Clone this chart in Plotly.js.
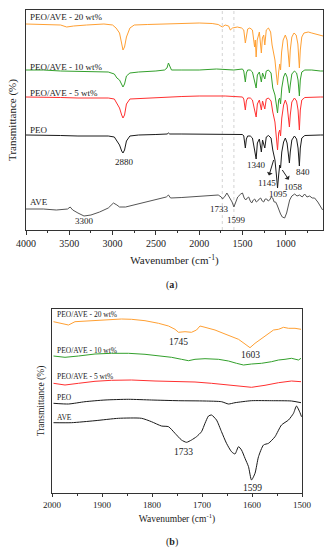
<!DOCTYPE html>
<html>
<head>
<meta charset="utf-8">
<script src="https://cdn.plot.ly/plotly-3.0.1.min.js"></script>
<style>html,body{margin:0;padding:0;background:#fff;}#chart{width:332px;height:550px;}</style>
</head>
<body>
<div id="chart"></div>
<script>
// ---------- Panel (a): full range spectra (offset transmittance, a.u.) ----------
const wnA_orange = [4000,3800,3600,3530,3450,3300,3100,3000,2960,2920,2895,2880,2862,2840,2800,2750,2600,2400,2200,2000,1850,1780,1733,1700,1660,1640,1615,1560,1510,1485,1467,1455,1440,1415,1385,1360,1352,1342,1330,1305,1282,1270,1255,1242,1225,1200,1175,1158,1145,1125,1108,1095,1082,1070,1060,1048,1030,1005,985,968,958,948,930,905,880,860,843,832,815,790,740,700,650,600,570];
const tA_orange  = [206,205.5,205,203,204,205,206,205,202,197,186,180,183,193,202,205,205.5,206,206,207,206.5,205.5,203,205,204,200,202,203,202,200,187,196,201,202,200,183,190,173,190,198,177,192,195,185,200,202,198,185,178,170,155,145,158,166,160,178,190,195,190,175,163,180,193,197,195,186,162,180,193,197,198,197,196,195,194];

const wnA_green = [4000,3800,3600,3400,3200,3050,2980,2950,2920,2895,2880,2862,2840,2800,2700,2500,2400,2372,2355,2340,2320,2200,2000,1800,1700,1600,1500,1485,1467,1455,1440,1410,1385,1360,1342,1328,1305,1282,1268,1242,1225,1200,1170,1150,1125,1108,1095,1082,1070,1060,1046,1025,1005,985,968,958,948,930,900,875,858,843,832,815,780,700,600,570];
const tA_green  = [160,160,159,158.5,158,158,156,152,150,145,143,146,154,157,158,159,160,162,167,164,160,160,160,161,160.5,160,161,159,148,157,160,160,158,150,142,155,158,148,157,151,159,160,157,142,135,125,117,130,132,126,142,153,157,153,142,137,145,156,159,157,150,134,150,158,160,160,159,159];

const wnA_red = [4000,3800,3600,3400,3200,3050,2980,2950,2920,2895,2880,2862,2840,2800,2700,2500,2350,2200,2000,1800,1700,1600,1500,1485,1467,1455,1440,1410,1385,1360,1342,1328,1305,1282,1268,1242,1225,1200,1170,1150,1125,1108,1095,1082,1070,1060,1046,1025,1005,985,968,958,948,930,900,875,858,843,832,815,780,700,600,570];
const tA_red  = [133,133,132.5,132,132,132,131,126,122,115,112,115,126,131,131.5,132.5,133,133.5,134,134.5,134,133.5,133,131,120,129,132,132,130,120,113,126,130,120,129,121,131,132,129,118,108,92,80,97,100,94,112,125,130,125,112,103,115,128,132,129,120,100,120,130,132.5,133,133,133];

const wnA_peo = [4000,3800,3600,3400,3200,3050,2980,2950,2920,2895,2880,2862,2840,2800,2700,2500,2370,2355,2340,2200,2000,1800,1700,1600,1500,1485,1467,1455,1440,1410,1385,1360,1342,1328,1305,1282,1268,1242,1225,1200,1170,1150,1140,1125,1108,1095,1082,1070,1060,1046,1025,1005,985,968,958,948,930,900,875,858,843,832,815,780,700,600,570];
const tA_peo  = [95,95,94.5,94,94,94,93,89,85,79,77,80,89,94,95,95.5,96,97,96,96,96,96,96,96,95.5,94,82,91,94,94,92,80,71,87,91,78,90,82,93,94.5,92,80,77,70,55,42,55,65,62,78,88,92,87,73,67,78,90,94,91,82,64,82,92,94.5,95,95,95];

const wnA_ave = [4000,3800,3650,3520,3490,3460,3400,3330,3250,3150,3050,2990,2950,2920,2850,2750,2600,2450,2380,2355,2330,2200,2000,1850,1780,1745,1730,1700,1680,1660,1640,1620,1599,1580,1555,1520,1500,1480,1462,1445,1428,1410,1393,1375,1359,1340,1324,1307,1290,1272,1255,1238,1220,1203,1186,1168,1151,1134,1117,1100,1080,1060,1040,1013,990,970,955,930,897,870,840,810,782,755,724,695,667,630,600,574];
const tA_ave  = [21,21,20,21,23,20,17,14,15,18,22,27,25,23,23,25,28,31,33,35,32,32.5,34,35,35,33,31,34,37,34,31,28,23,28,33,36,37,32,30,32,33,29,27,30,31,28,29,31,32,29,28,31,31,29,30,33,32,28,28,25,20,16,13,12,17,25,30,34,36,34,35,33,36,33,34,32,32,28,24,20];

// ---------- Panel (b): 2000-1500 cm-1 ----------
const wnB_orange = [1997,1984,1967,1954,1927,1894,1861,1841,1814,1787,1767,1754,1747,1734,1721,1711,1704,1694,1674,1654,1641,1627,1614,1604,1594,1581,1567,1557,1547,1537,1527,1514,1502];
const tB_orange  = [171.3,169.7,168,171.3,172.3,173,174,173.7,172.3,169.7,167,163.7,160.7,161.3,160.7,163,167,165.7,163,159,156.3,153.7,149,145.3,149.7,154.7,159.7,163,163.7,165.7,164.7,164.7,163.7];

const wnB_green = [1997,1974,1947,1914,1881,1847,1814,1781,1761,1741,1727,1714,1694,1667,1647,1631,1617,1601,1581,1561,1547,1534,1521,1507,1502];
const tB_green  = [137,135.7,137,139,139.7,139.7,138.7,137,135.7,133.7,132.3,133.7,134.3,133.7,132,129.7,128,129,129.7,131.3,133,133.7,134.7,133,134.7];

const wnB_red = [1997,1974,1947,1914,1881,1841,1794,1747,1714,1681,1654,1627,1601,1574,1547,1521,1502];
const tB_red  = [109.7,108,109.7,111.7,112.7,113,112,111.3,111,109.7,108.3,107,105.7,107.7,110.3,112,111.3];

const wnB_peo = [1997,1967,1934,1894,1847,1801,1747,1694,1661,1647,1634,1601,1561,1521,1502];
const tB_peo  = [89.7,89,91.3,93,93.7,93,92.3,92,91.3,89,90.3,92.3,92.3,92,90.3];

const wnB_ave = [1997,1961,1914,1867,1821,1801,1781,1767,1754,1741,1731,1721,1711,1701,1694,1687,1681,1671,1661,1651,1641,1634,1627,1621,1614,1607,1601,1594,1587,1577,1567,1554,1541,1527,1517,1511,1504,1501];
const tB_ave  = [70.3,70.3,72.3,74.7,74.7,71.3,67,66.3,59.7,53,50.7,53,56.3,61.3,69.7,77,78,73,61.3,49.7,41.3,39,46.3,43,34.7,26.3,13,19.7,36.3,48,49.7,56.3,68,73,79.7,87,80.3,76.3];

const seriesNames = ["PEO/AVE - 20 wt%","PEO/AVE - 10 wt%","PEO/AVE - 5 wt%","PEO","AVE"];
const peakLabelsA = ["3300","2880","1733","1599","1340","1145","1095","1058","840"];
const peakLabelsB = ["1745","1603","1733","1599"];

const F = "Liberation Serif, Times New Roman, serif";
const cOrange = "#ffa033", cGreen = "#33a02c", cRed = "#ff3030", cBlack = "#1a1a1a", cGray = "#555555";

function tr(x, y, color, xa, ya, shape) {
  return {x: x, y: y, type: "scatter", mode: "lines", xaxis: xa, yaxis: ya,
          line: {color: color, width: 1, shape: shape || "linear", smoothing: 0.6}, hoverinfo: "skip", showlegend: false};
}

const data = [
  tr(wnA_orange, tA_orange, cOrange, "x", "y"),
  tr(wnA_green, tA_green, cGreen, "x", "y"),
  tr(wnA_red, tA_red, cRed, "x", "y"),
  tr(wnA_peo, tA_peo, cBlack, "x", "y"),
  tr(wnA_ave, tA_ave, cGray, "x", "y"),
  tr(wnB_orange, tB_orange, cOrange, "x2", "y2"),
  tr(wnB_green, tB_green, cGreen, "x2", "y2"),
  tr(wnB_red, tB_red, cRed, "x2", "y2"),
  tr(wnB_peo, tB_peo, cBlack, "x2", "y2", "spline"),
  tr(wnB_ave, tB_ave, cBlack, "x2", "y2", "spline")
];

function lab(text, x, y, xr, yr, size, anchor) {
  return {text: text, x: x, y: y, xref: xr, yref: yr, showarrow: false,
          xanchor: anchor || "center", yanchor: "middle", font: {family: F, size: size, color: "#222"}};
}
// label with an arrow from the peak towards the label (head at the label side)
function arrowLab(text, px, py, tx, ty, size) {
  return {text: text, x: px, y: py, ax: tx, ay: ty, xref: "x", yref: "y", axref: "x", ayref: "y",
          showarrow: true, arrowside: "start", arrowhead: 2, arrowsize: 0.8, arrowwidth: 1,
          arrowcolor: "#222", standoff: 0, startstandoff: 1,
          font: {family: F, size: size, color: "#222"}};
}

const annotations = [
  // panel a series labels
  lab(seriesNames[0], 3980, 213, "x", "y", 9, "left"),
  lab(seriesNames[1], 3980, 163, "x", "y", 9, "left"),
  lab(seriesNames[2], 3980, 137, "x", "y", 9, "left"),
  lab(seriesNames[3], 3980, 100, "x", "y", 9, "left"),
  lab(seriesNames[4], 3980, 28, "x", "y", 9, "left"),
  // panel a peak labels
  lab(peakLabelsA[0], 3320, 9, "x", "y", 9),
  lab(peakLabelsA[1], 2860, 68, "x", "y", 9),
  lab(peakLabelsA[2], 1762, 21, "x", "y", 9),
  lab(peakLabelsA[3], 1566, 10, "x", "y", 9),
  lab(peakLabelsA[4], 1336, 65, "x", "y", 9),
  arrowLab(peakLabelsA[5], 1140, 70, 1220, 47, 9),
  lab(peakLabelsA[6], 1082, 36, "x", "y", 9),
  arrowLab(peakLabelsA[7], 1040, 60, 909, 43, 9),
  lab(peakLabelsA[8], 805, 58, "x", "y", 9),
  // panel b series labels
  lab(seriesNames[0], 1994, 179, "x2", "y2", 7.5, "left"),
  lab(seriesNames[1], 1994, 143, "x2", "y2", 7.5, "left"),
  lab(seriesNames[2], 1994, 117, "x2", "y2", 7.5, "left"),
  lab(seriesNames[3], 1994, 96, "x2", "y2", 7.5, "left"),
  lab(seriesNames[4], 1994, 76, "x2", "y2", 7.5, "left"),
  lab(peakLabelsB[0], 1748, 151, "x2", "y2", 9.5),
  lab(peakLabelsB[1], 1604, 138, "x2", "y2", 9.5),
  lab(peakLabelsB[2], 1738, 41, "x2", "y2", 9.5),
  lab(peakLabelsB[3], 1600, 5, "x2", "y2", 9.5),
  // panel captions
  lab("(<b>a</b>)", 0.518, 1 - 285/550, "paper", "paper", 10),
  lab("(<b>b</b>)", 0.518, 1 - 542/550, "paper", "paper", 10)
];

const shapes = [1733, 1599].map(v => ({type: "line", xref: "x", yref: "y", x0: v, x1: v, y0: 0, y1: 220,
  line: {color: "#c8c8c8", width: 0.8, dash: "dot"}, layer: "below"}));

const axisCommon = {showline: true, linecolor: "#333", linewidth: 1, mirror: true, showgrid: false, zeroline: false};

const layout = {
  width: 332, height: 550, margin: {l: 0, r: 0, t: 0, b: 0},
  paper_bgcolor: "#fff", plot_bgcolor: "#fff", showlegend: false,
  font: {family: F, color: "#222"},
  xaxis: Object.assign({}, axisCommon, {domain: [26/332, 323/332], anchor: "y", range: [4000, 570],
    tickvals: [4000,3500,3000,2500,2000,1500,1000], ticks: "outside", ticklen: 4, tickcolor: "#333",
    minor: {dtick: 250, tick0: 0, ticks: "outside", ticklen: 2, tickcolor: "#333"},
    tickfont: {family: F, size: 10, color: "#222"},
    title: {text: "Wavenumber (cm<sup>-1</sup>)", font: {family: F, size: 11, color: "#222"}, standoff: 8}}),
  yaxis: Object.assign({}, axisCommon, {domain: [1 - 230/550, 1 - 10/550], anchor: "x", range: [0, 220],
    showticklabels: false, ticks: "",
    title: {text: "Transmittance (%)", font: {family: F, size: 11, color: "#222"}, standoff: 6}}),
  xaxis2: Object.assign({}, axisCommon, {domain: [52/332, 302/332], anchor: "y2", range: [2000, 1500],
    tickvals: [2000,1900,1800,1700,1600,1500], ticks: "outside", ticklen: 3, tickcolor: "#333",
    minor: {dtick: 50, tick0: 0, ticks: "outside", ticklen: 2, tickcolor: "#333"},
    tickfont: {family: F, size: 9, color: "#222"},
    title: {text: "Wavenumber (cm<sup>-1</sup>)", font: {family: F, size: 9.5, color: "#222"}, standoff: 6}}),
  yaxis2: Object.assign({}, axisCommon, {domain: [1 - 493/550, 1 - 309/550], anchor: "x2", range: [0, 184],
    showticklabels: false, ticks: "",
    title: {text: "Transmittance (%)", font: {family: F, size: 9.5, color: "#222"}, standoff: 4}}),
  annotations: annotations,
  shapes: shapes
};

Plotly.newPlot("chart", data, layout, {staticPlot: true, displayModeBar: false});
</script>
</body>
</html>
